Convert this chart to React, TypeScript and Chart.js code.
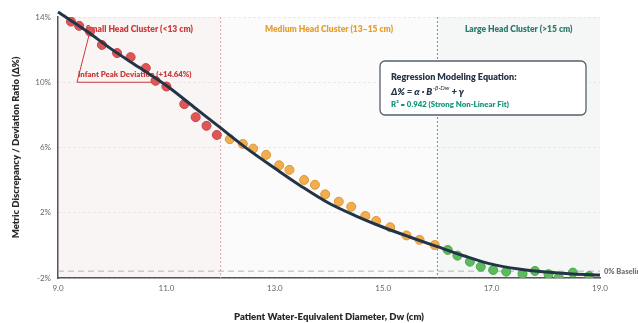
import { useEffect, useRef } from 'react';
import { Chart, registerables } from 'chart.js';

Chart.register(...registerables);

const FONT = "Lato, 'Open Sans', sans-serif";

// Observed samples, by head-size cluster
const smallX = [9.24, 9.39, 9.59, 9.81, 10.09, 10.34, 10.62, 10.8, 11.0, 11.33, 11.54, 11.74, 11.93];
const smallY = [13.72, 13.46, 13.11, 12.29, 11.79, 11.54, 10.87, 10.09, 9.74, 8.66, 7.86, 7.33, 6.77];

const mediumX = [12.17, 12.41, 12.6, 12.84, 13.08, 13.27, 13.54, 13.74, 13.93, 14.18, 14.41, 14.67, 14.87, 15.13, 15.43, 15.67, 15.95];
const mediumY = [6.51, 6.22, 5.93, 5.55, 4.91, 4.63, 4.01, 3.71, 3.13, 2.68, 2.37, 1.8, 1.5, 1.11, 0.61, 0.34, 0.02];

const largeX = [16.19, 16.37, 16.6, 16.8, 17.03, 17.27, 17.57, 17.8, 18.05, 18.24, 18.5, 18.8];
const largeY = [-0.28, -0.63, -1.0, -1.31, -1.51, -1.61, -1.75, -1.57, -1.77, -1.98, -1.67, -1.88];

// Fitted regression curve
const fitX = [9, 9.5, 10, 10.5, 11, 11.5, 12, 12.5, 13, 13.5, 14, 14.5, 15, 15.5, 16, 16.5, 17, 17.5, 18, 18.5, 19];
const fitY = [14.3, 13.2, 12.0, 10.9, 9.8, 8.5, 7.2, 5.9, 4.73, 3.6, 2.58, 1.8, 1.11, 0.5, -0.08, -0.65, -1.15, -1.45, -1.63, -1.75, -1.82];

const xTicks = [9, 11, 13, 15, 17, 19];
const yTicks = [-2, 2, 6, 10, 14];

const boundarySmallMedium = 12;
const boundaryMediumLarge = 16;
const baselineLevel = -1.58;

const regionLabels = ['Small Head Cluster (<13 cm)', 'Medium Head Cluster (13–15 cm)', 'Large Head Cluster (>15 cm)'];
const regionColors = ['#cc3a3a', '#e89e2a', '#2b7a6b'];

const peakIndex = 2;
const peakLabel = 'Infant Peak Deviation (+14.64%)';
const calloutX = [9.35, 10.85];
const calloutY = 10.0;

const pts = (xs: number[], ys: number[]) => xs.map((x, i) => ({ x, y: ys[i] }));

const overlayPlugin = {
  id: 'overlay',
  beforeDraw(chart: any) {
    const { ctx, chartArea: a, scales } = chart;
    const x = scales.x;
    const xb1 = x.getPixelForValue(boundarySmallMedium);
    const xb2 = x.getPixelForValue(boundaryMediumLarge);
    ctx.save();
    ctx.fillStyle = '#ffffff';
    ctx.fillRect(0, 0, chart.width, chart.height);
    ctx.fillStyle = '#f8f5f4';
    ctx.fillRect(a.left, a.top, xb1 - a.left, a.bottom - a.top);
    ctx.fillStyle = '#fbfbfb';
    ctx.fillRect(xb1, a.top, xb2 - xb1, a.bottom - a.top);
    ctx.fillStyle = '#f5f7f6';
    ctx.fillRect(xb2, a.top, a.right - xb2, a.bottom - a.top);
    ctx.restore();
  },
  beforeDatasetsDraw(chart: any) {
    const { ctx, chartArea: a, scales } = chart;
    const x = scales.x;
    const y = scales.y;
    const xb1 = x.getPixelForValue(boundarySmallMedium);
    const xb2 = x.getPixelForValue(boundaryMediumLarge);
    ctx.save();
    // boundaries
    ctx.lineWidth = 1;
    ctx.setLineDash([2, 2]);
    ctx.strokeStyle = '#e8a3a3';
    ctx.beginPath();
    ctx.moveTo(xb1, a.top);
    ctx.lineTo(xb1, a.bottom);
    ctx.stroke();
    ctx.strokeStyle = '#5f9c92';
    ctx.beginPath();
    ctx.moveTo(xb2, a.top);
    ctx.lineTo(xb2, a.bottom);
    ctx.stroke();
    // baseline
    const yb = y.getPixelForValue(baselineLevel);
    ctx.setLineDash([6, 4]);
    ctx.strokeStyle = '#b5b5b5';
    ctx.beginPath();
    ctx.moveTo(a.left, yb);
    ctx.lineTo(a.right, yb);
    ctx.stroke();
    ctx.setLineDash([]);
    ctx.fillStyle = '#777';
    ctx.font = `800 7.5px ${FONT}`;
    ctx.textAlign = 'left';
    ctx.textBaseline = 'middle';
    ctx.fillText('0% Baseline', a.right + 4, yb);

    // region labels
    const centers = [(a.left + xb1) / 2, (xb1 + xb2) / 2, (xb2 + a.right) / 2];
    ctx.font = `800 8.5px ${FONT}`;
    ctx.textAlign = 'center';
    regionLabels.forEach((t, i) => {
      ctx.fillStyle = regionColors[i];
      ctx.fillText(t, centers[i], a.top + 12.5);
    });

    // callout
    const px = x.getPixelForValue(smallX[peakIndex]);
    const py = y.getPixelForValue(smallY[peakIndex]);
    const cx0 = x.getPixelForValue(calloutX[0]);
    const cx1 = x.getPixelForValue(calloutX[1]);
    const cy = y.getPixelForValue(calloutY);
    ctx.strokeStyle = '#cc3a3a';
    ctx.lineWidth = 1;
    ctx.beginPath();
    ctx.moveTo(px, py);
    ctx.lineTo(cx0, cy);
    ctx.lineTo(cx1, cy);
    ctx.stroke();
    ctx.fillStyle = '#cc3a3a';
    ctx.font = `800 7.8px ${FONT}`;
    ctx.textAlign = 'left';
    ctx.fillText(peakLabel, cx0 + 1, cy - 7.5);

    // regression box
    const bw = 206;
    const bh = 54;
    const bx = a.right - 14 - bw;
    const by = a.top + 44;
    ctx.beginPath();
    ctx.roundRect(bx, by, bw, bh, 5);
    ctx.fillStyle = '#ffffff';
    ctx.fill();
    ctx.strokeStyle = '#56606a';
    ctx.lineWidth = 1.3;
    ctx.stroke();
    ctx.textAlign = 'left';
    ctx.fillStyle = '#263545';
    ctx.font = `800 9px ${FONT}`;
    ctx.fillText('Regression Modeling Equation:', bx + 11, by + 16);
    ctx.font = `italic 800 9.5px ${FONT}`;
    let tx = bx + 11;
    const ty = by + 31;
    const p1 = 'Δ% = α · B';
    ctx.fillText(p1, tx, ty);
    tx += ctx.measureText(p1).width + 0.5;
    ctx.font = `italic 6.5px ${FONT}`;
    const sup = '-β·Dw';
    ctx.fillText(sup, tx, ty - 4);
    tx += ctx.measureText(sup).width;
    ctx.font = `italic 800 9.5px ${FONT}`;
    ctx.fillText(' + γ', tx, ty);
    ctx.fillStyle = '#17977d';
    ctx.font = `800 7.8px ${FONT}`;
    ctx.fillText('R² = 0.942 (Strong Non-Linear Fit)', bx + 11, by + 43.5);
    ctx.restore();
  },
};

export default function App() {
  const ref = useRef<HTMLCanvasElement | null>(null);
  useEffect(() => {
    if (!ref.current) return;
    const chart = new Chart(ref.current, {
      type: 'scatter',
      data: {
        datasets: [
          {
            label: 'Fit',
            data: pts(fitX, fitY),
            showLine: true,
            borderColor: '#243447',
            borderWidth: 3,
            pointRadius: 0,
            cubicInterpolationMode: 'monotone',
            clip: false,
            order: 0,
          } as any,
          {
            label: 'Small',
            data: pts(smallX, smallY),
            backgroundColor: '#e05656',
            borderColor: '#c94545',
            borderWidth: 1,
            pointRadius: 4.5,
            order: 1,
          },
          {
            label: 'Medium',
            data: pts(mediumX, mediumY),
            backgroundColor: '#f2ae4e',
            borderColor: '#de9834',
            borderWidth: 1,
            pointRadius: 4.5,
            order: 1,
          },
          {
            label: 'Large',
            data: pts(largeX, largeY),
            backgroundColor: '#5dbb5d',
            borderColor: '#49a849',
            borderWidth: 1,
            pointRadius: 4.5,
            order: 1,
          },
        ],
      },
      options: {
        responsive: false,
        animation: false,
        layout: { padding: { left: 0, right: 38, top: 17, bottom: 0 } },
        plugins: { legend: { display: false }, tooltip: { enabled: false } },
        scales: {
          x: {
            type: 'linear',
            min: 9,
            max: 19,
            afterBuildTicks: (s: any) => {
              s.ticks = xTicks.map((v) => ({ value: v }));
            },
            afterFit: (s: any) => {
              s.height = 45;
            },
            ticks: {
              callback: (v: any) => Number(v).toFixed(1),
              color: '#666',
              font: { family: FONT, size: 8 },
              padding: 6,
              maxRotation: 0,
            },
            grid: { display: false, drawTicks: false },
            border: { display: true, color: '#555', width: 1.5 },
            title: {
              display: true,
              text: 'Patient Water-Equivalent Diameter, Dw (cm)',
              color: '#2a2a2a',
              font: { family: FONT, size: 9.5, weight: '800' },
              padding: { top: 4, bottom: 0 },
            },
          },
          y: {
            min: -2,
            max: 14,
            afterBuildTicks: (s: any) => {
              s.ticks = yTicks.map((v) => ({ value: v }));
            },
            afterFit: (s: any) => {
              s.width = 58;
            },
            ticks: {
              callback: (v: any) => `${v}%`,
              color: '#666',
              font: { family: FONT, size: 8 },
              padding: 7,
            },
            grid: { color: '#e2e2e2', drawTicks: false, lineWidth: 1 },
            border: { display: true, color: '#555', width: 1.5, dash: [2, 3] },
            title: {
              display: true,
              text: 'Metric Discrepancy / Deviation Ratio (Δ%)',
              color: '#2a2a2a',
              font: { family: FONT, size: 9.5, weight: '800' },
              padding: { top: 10, bottom: 0 },
            },
          },
        },
      },
      plugins: [overlayPlugin],
    } as any);
    return () => chart.destroy();
  }, []);
  return (
    <div style={{ position: 'fixed', left: 0, top: 0, width: 638, height: 323 }}>
      <canvas ref={ref} width={638} height={323} style={{ display: 'block', width: 638, height: 323 }} />
    </div>
  );
}
